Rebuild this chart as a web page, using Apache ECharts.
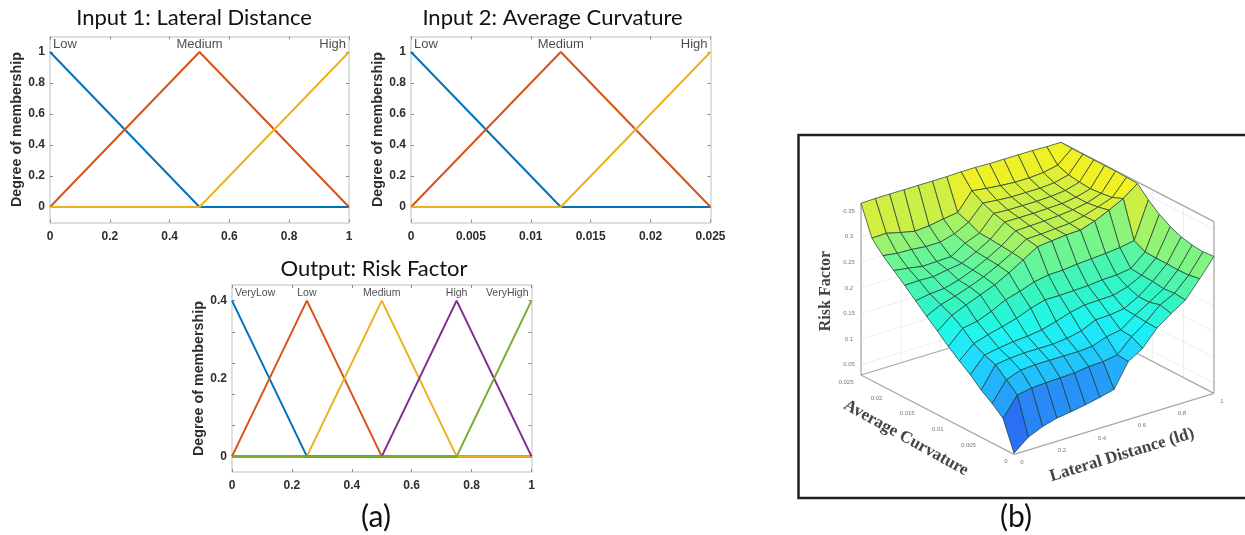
<!DOCTYPE html>
<html><head><meta charset="utf-8">
<style>html,body{margin:0;padding:0;background:#fff;overflow:hidden}#c{width:1245px;height:535px;filter:blur(0.45px)}</style>
<script src="https://cdn.jsdelivr.net/npm/echarts@6/dist/echarts.min.js"></script>
</head><body><div id="c"></div>
<script>
// ---------- panel (a) data ----------
const input1Ticks = [0, 0.2, 0.4, 0.6, 0.8, 1];
const input2Ticks = [0, 0.005, 0.01, 0.015, 0.02, 0.025];
const outputTicks = [0, 0.2, 0.4, 0.6, 0.8, 1];
const memberTicks = [0, 0.2, 0.4, 0.6, 0.8, 1];
const outputMemberLabels = [0, 0.2, 0.4];
const outputMemberTicks = [0, 0.08, 0.16, 0.24, 0.32, 0.4];

const input1Low = [[0, 1], [0.5, 0], [1, 0]];
const input1Medium = [[0, 0], [0.5, 1], [1, 0]];
const input1High = [[0, 0], [0.5, 0], [1, 1]];
const input2Low = [[0, 1], [0.0125, 0], [0.025, 0]];
const input2Medium = [[0, 0], [0.0125, 1], [0.025, 0]];
const input2High = [[0, 0], [0.0125, 0], [0.025, 1]];
const outVeryLow = [[0, 0.4], [0.25, 0], [1, 0]];
const outLow = [[0, 0], [0.25, 0.4], [0.5, 0], [1, 0]];
const outMedium = [[0, 0], [0.25, 0], [0.5, 0.4], [0.75, 0], [1, 0]];
const outHigh = [[0, 0], [0.5, 0], [0.75, 0.4], [1, 0]];
const outVeryHigh = [[0, 0], [0.75, 0], [1, 0.4]];
const inputNames = ['Low', 'Medium', 'High'];
const outputNames = ['VeryLow', 'Low', 'Medium', 'High', 'VeryHigh'];

// ---------- panel (b) data: Risk Factor, rows = curvature step, columns = lateral distance step ----------
const lateralDistanceTicks = [0, 0.2, 0.4, 0.6, 0.8, 1];
const curvatureTicks = [0, 0.005, 0.01, 0.015, 0.02, 0.025];
const riskTicks = [0.05, 0.1, 0.15, 0.2, 0.25, 0.3, 0.35];
const riskRows = [
 [.032,.055,.067,.075,.079,.084,.090,.097,.143,.160,.191,.211,.229,.262,.297],
 [.089,.126,.131,.133,.134,.135,.139,.140,.145,.172,.192,.217,.231,.258,.295],
 [.107,.145,.155,.157,.157,.157,.157,.159,.169,.174,.194,.211,.229,.257,.297],
 [.122,.163,.167,.169,.169,.169,.172,.178,.191,.192,.196,.211,.232,.258,.302],
 [.141,.171,.176,.180,.182,.186,.194,.203,.209,.210,.211,.219,.233,.258,.311],
 [.157,.182,.191,.198,.206,.217,.225,.225,.226,.227,.230,.231,.235,.259,.324],
 [.174,.201,.206,.217,.231,.239,.249,.254,.255,.258,.260,.262,.265,.270,.341],
 [.193,.215,.227,.238,.249,.264,.281,.298,.301,.304,.305,.314,.327,.341,.362],
 [.211,.225,.233,.243,.254,.268,.284,.302,.303,.305,.307,.313,.322,.332,.363],
 [.230,.235,.237,.245,.256,.270,.286,.307,.308,.309,.311,.314,.319,.329,.364],
 [.249,.250,.249,.254,.258,.272,.288,.313,.313,.313,.314,.315,.319,.327,.364],
 [.267,.263,.258,.259,.260,.278,.289,.319,.317,.317,.317,.318,.321,.329,.364],
 [.285,.281,.280,.277,.277,.285,.299,.328,.325,.323,.323,.323,.325,.332,.364],
 [.308,.309,.302,.296,.298,.303,.307,.341,.337,.334,.332,.332,.334,.340,.364],
 [.365,.366,.366,.366,.366,.366,.366,.367,.367,.366,.366,.366,.366,.365,.365]
];

// ---------- styles ----------
const mfColors = ['#0072BD', '#D95319', '#EDB120', '#7E2F8E', '#77AC30'];
const boxColor = '#d4d4d4', tickColor = '#8a8a8a', labelColor = '#2e2e2e';
const sans = '"Liberation Sans", Arial, sans-serif';
const titleFont = 'Lato, "Open Sans", sans-serif';
const serif = '"Liberation Serif", "DejaVu Serif", serif';
const colorStops = [[.03,'#2a4cf5'],[.069,'#2a7cf5'],[.128,'#22b0fa'],[.157,'#1fdcff'],[.186,'#1ff5f0'],
  [.225,'#35f5c0'],[.27,'#70f590'],[.31,'#c4f04c'],[.32,'#d0ee44'],[.34,'#eef028'],[.365,'#f4f41e']];

// orthographic projection of the 3-D box onto the page plane
const RISK_MIN = 0.03, RISK_MAX = 0.365;
const CELLS = riskRows.length - 1;
const O = [1014, 454.3], AX_LD = [200, -61], AX_C = [-153, -79.3], AX_Z = 171.7;
function project(ld, c, z) {
  const h = (z - RISK_MIN) / (RISK_MAX - RISK_MIN) * AX_Z;
  return [O[0] + ld * AX_LD[0] + c * AX_C[0], O[1] + ld * AX_LD[1] + c * AX_C[1] - h];
}
function colorOf(z) {
  for (let k = 1; k < colorStops.length; k++) {
    if (z <= colorStops[k][0]) {
      const t = Math.max(0, (z - colorStops[k-1][0]) / (colorStops[k][0] - colorStops[k-1][0]));
      return echarts.color.lerp(t, [colorStops[k-1][1], colorStops[k][1]]);
    }
  }
  return colorStops[colorStops.length - 1][1];
}

// ---------- 2-D panels ----------
const xAxes = [], yAxes = [], grids = [], series = [];
function panel(box, xMax, xTicks, yRange, yLabels, yTicks, curves, names, labelData, labelSize) {
  const g = grids.length;
  grids.push({left: box[0], top: box[1], width: box[2], height: box[3], containLabel: false});
  const xi = xAxes.length, yi = yAxes.length;
  const line = {show: true, onZero: false, lineStyle: {color: boxColor, width: 1.5}};
  xAxes.push({type: 'value', gridIndex: g, position: 'bottom', min: 0, max: xMax, axisLine: line,
    axisTick: {show: true, inside: true, length: 3, lineStyle: {color: tickColor}, customValues: xTicks},
    axisLabel: {show: true, margin: 8, color: labelColor, fontFamily: sans, fontWeight: 'bold', fontSize: 12,
      customValues: xTicks, showMinLabel: true, showMaxLabel: true, formatter: v => String(v)},
    splitLine: {show: false}});
  xAxes.push({type: 'value', gridIndex: g, position: 'top', min: 0, max: xMax, axisLine: line,
    axisTick: {show: true, inside: true, length: 3, lineStyle: {color: tickColor}, customValues: xTicks},
    axisLabel: {show: false}, splitLine: {show: false}});
  yAxes.push({type: 'value', gridIndex: g, position: 'left', min: yRange[0], max: yRange[1], axisLine: line,
    name: 'Degree of membership', nameLocation: 'middle', nameGap: 22,
    nameTextStyle: {fontFamily: sans, fontWeight: 'bold', fontSize: 14.3, color: labelColor},
    axisTick: {show: true, inside: true, length: 3, lineStyle: {color: tickColor}, customValues: yTicks},
    axisLabel: {show: true, margin: 5, color: labelColor, fontFamily: sans, fontWeight: 'bold', fontSize: 12,
      customValues: yLabels, formatter: v => String(v)},
    splitLine: {show: false}});
  yAxes.push({type: 'value', gridIndex: g, position: 'right', min: yRange[0], max: yRange[1], axisLine: line,
    axisTick: {show: true, inside: true, length: 3, lineStyle: {color: tickColor}, customValues: yTicks},
    axisLabel: {show: false}, splitLine: {show: false}});
  curves.forEach((d, k) => series.push({
    type: 'line', name: names[k], xAxisIndex: xi, yAxisIndex: yi, data: d, symbol: 'none', animation: false,
    lineStyle: {color: mfColors[k], width: 2}, silent: true, z: 3 + k * 0.01
  }));
  series.push({
    type: 'scatter', xAxisIndex: xi, yAxisIndex: yi, symbolSize: 0, silent: true, animation: false,
    data: labelData.map(d => ({value: [d[1], d[2]], name: d[0],
      label: {show: true, position: d[3] === 'center' ? 'inside' : (d[3] === 'left' ? 'right' : 'left'),
        distance: d[4], formatter: d[0], fontFamily: sans, fontSize: labelSize, color: '#1c1c1c'}}))
  });
}
panel([50, 36.5, 299, 186], 1, input1Ticks, [-0.1, 1.1], memberTicks, memberTicks,
  [input1Low, input1Medium, input1High], inputNames,
  [['Low', 0, 1.05, 'left', 3], ['Medium', 0.5, 1.05, 'center', 0], ['High', 1, 1.05, 'left2', 3]], 13);
panel([411, 36.5, 299.5, 186], 0.025, input2Ticks, [-0.1, 1.1], memberTicks, memberTicks,
  [input2Low, input2Medium, input2High], inputNames,
  [['Low', 0, 1.05, 'left', 3], ['Medium', 0.0125, 1.05, 'center', 0], ['High', 0.025, 1.05, 'left2', 3]], 13);
panel([232, 285, 299.5, 187], 1, outputTicks, [-0.04, 0.44], outputMemberLabels, outputMemberTicks,
  [outVeryLow, outLow, outMedium, outHigh, outVeryHigh], outputNames,
  [['VeryLow', 0, 0.42, 'left', 3], ['Low', 0.25, 0.42, 'center', 0], ['Medium', 0.5, 0.42, 'center', 0],
   ['High', 0.75, 0.42, 'center', 0], ['VeryHigh', 1, 0.42, 'left2', 3]], 10.5);

// ---------- panel (b): page-sized hidden scales, surface projected through them ----------
grids.push({left: 0, top: 0, width: 1245, height: 535});
const pageX = xAxes.length, pageY = yAxes.length, pageG = grids.length - 1;
xAxes.push({type: 'value', gridIndex: pageG, min: 0, max: 1245, show: false});
yAxes.push({type: 'value', gridIndex: pageG, min: 0, max: 535, inverse: true, show: false});

const wallLines = [
  [[0,1,RISK_MIN],[0,0,RISK_MIN]], [[0,0,RISK_MIN],[1,0,RISK_MIN]],
  [[0,1,RISK_MIN],[1,1,RISK_MIN]], [[1,1,RISK_MIN],[1,0,RISK_MIN]],
  [[0,1,RISK_MIN],[0,1,RISK_MAX]], [[1,0,RISK_MIN],[1,0,RISK_MAX]], [[1,1,RISK_MIN],[1,1,RISK_MAX]],
  [[1,1,RISK_MAX],[1,0,RISK_MAX]]
];
const wallGrid = [];
riskTicks.forEach(z => { wallGrid.push([[0,1,z],[1,1,z]]); wallGrid.push([[1,1,z],[1,0,z]]); });
lateralDistanceTicks.slice(1,5).forEach(v => wallGrid.push([[v,1,RISK_MIN],[v,1,RISK_MAX]]));
curvatureTicks.slice(1,5).forEach(v => wallGrid.push([[1,v/0.025,RISK_MIN],[1,v/0.025,RISK_MAX]]));

function segSeries(list, color, width) {
  return {type: 'custom', xAxisIndex: pageX, yAxisIndex: pageY, silent: true, animation: false, clip: false, z: 1,
    data: list.map((_, k) => [k, 0]), encode: {x: 0, y: 1},
    renderItem: (p, api) => {
      const s = list[api.value(0)], a = api.coord(project(...s[0])), b = api.coord(project(...s[1]));
      return {type: 'line', shape: {x1: a[0], y1: a[1], x2: b[0], y2: b[1]}, style: {stroke: color, lineWidth: width}};
    }};
}
series.push(segSeries(wallGrid, '#eeeeee', 1));
series.push(segSeries(wallLines, '#a8a8a8', 1.3));

// tick marks + labels of the 3-D box
const tickItems = [];
lateralDistanceTicks.forEach(v => tickItems.push({p: [v, 0, RISK_MIN], t: String(v), dx: 8, dy: 8}));
curvatureTicks.forEach(v => tickItems.push({p: [0, v / 0.025, RISK_MIN], t: String(v), dx: v === 0 ? -8 : -15, dy: 7}));
riskTicks.forEach(v => tickItems.push({p: [0, 1, v], t: String(v), dx: -12, dy: 0}));
series.push({type: 'custom', xAxisIndex: pageX, yAxisIndex: pageY, silent: true, animation: false, clip: false, z: 1,
  data: tickItems.map((_, k) => [k, 0]), encode: {x: 0, y: 1},
  renderItem: (p, api) => {
    const it = tickItems[api.value(0)], a = api.coord(project(...it.p));
    return {type: 'text', x: a[0] + it.dx, y: a[1] + it.dy,
      style: {text: it.t, fontSize: 6, fontFamily: sans, fill: '#777', align: 'center', verticalAlign: 'middle'}};
  }});

// surface cells, far corner first
const cells = [];
for (let i = CELLS - 1; i >= 0; i--) for (let j = CELLS - 1; j >= 0; j--) cells.push([i, j]);
series.push({type: 'custom', name: 'Risk Factor', xAxisIndex: pageX, yAxisIndex: pageY, silent: true,
  animation: false, clip: false, z: 2, data: cells, encode: {x: 0, y: 1},
  renderItem: (p, api) => {
    const i = api.value(0), j = api.value(1);
    const corner = (a, b) => api.coord(project(b / CELLS, a / CELLS, riskRows[a][b]));
    const mean = 0.375 * (riskRows[i][j] + riskRows[i][j+1]) + 0.125 * (riskRows[i+1][j] + riskRows[i+1][j+1]);
    return {type: 'polygon', shape: {points: [corner(i,j), corner(i,j+1), corner(i+1,j+1), corner(i+1,j)]},
      style: {fill: colorOf(mean), stroke: 'rgba(30,60,50,0.72)', lineWidth: 1, lineJoin: 'round'}};
  }});

const chart = echarts.init(document.getElementById('c'), null, {renderer: 'canvas'});
const titleStyle = {fontFamily: titleFont, fontSize: 22, fontWeight: 'normal', color: '#111'};
chart.setOption({
  animation: false, backgroundColor: '#fff',
  title: [
    {text: 'Input 1: Lateral Distance', left: 189, top: 2, textAlign: 'center', textStyle: titleStyle},
    {text: 'Input 2: Average Curvature', left: 547.5, top: 2, textAlign: 'center', textStyle: titleStyle},
    {text: 'Output: Risk Factor', left: 369, top: 253, textAlign: 'center', textStyle: titleStyle}
  ],
  grid: grids, xAxis: xAxes, yAxis: yAxes, series,
  graphic: [
    {type: 'rect', shape: {x: 798.5, y: 135, width: 500, height: 363}, style: {fill: 'none', stroke: '#222', lineWidth: 2.5}, silent: true, z: 0},
    {type: 'text', x: 376, y: 517, style: {text: '(a)', font: '30px ' + titleFont, fill: '#111', textAlign: 'center', textVerticalAlign: 'middle'}},
    {type: 'text', x: 1016, y: 517, style: {text: '(b)', font: '30px ' + titleFont, fill: '#111', textAlign: 'center', textVerticalAlign: 'middle'}},
    {type: 'text', x: 906, y: 438, rotation: -29 * Math.PI / 180, style: {text: 'Average Curvature', font: 'bold 17px ' + serif, fill: '#444', textAlign: 'center', textVerticalAlign: 'middle'}},
    {type: 'text', x: 1122, y: 455, rotation: 17 * Math.PI / 180, style: {text: 'Lateral Distance (ld)', font: 'bold 17px ' + serif, fill: '#444', textAlign: 'center', textVerticalAlign: 'middle'}},
    {type: 'text', x: 826, y: 291, rotation: Math.PI / 2, style: {text: 'Risk Factor', font: 'bold 16px ' + serif, fill: '#444', textAlign: 'center', textVerticalAlign: 'middle'}}
  ]
});
</script></body></html>
